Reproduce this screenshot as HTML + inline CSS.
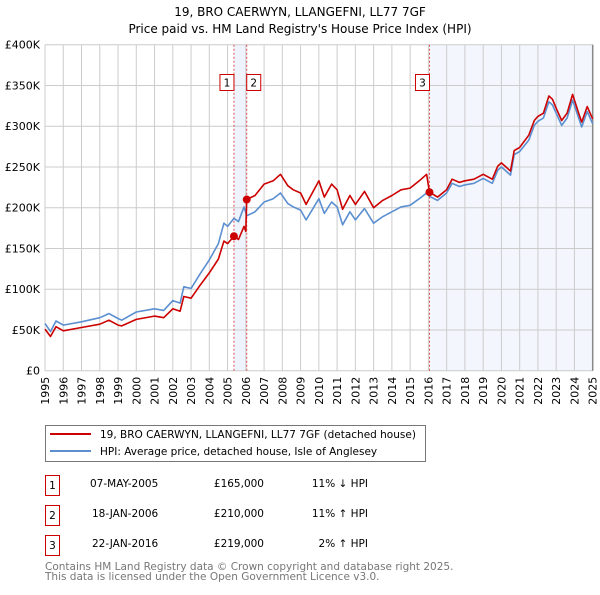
<!DOCTYPE html>
<html><head><meta charset="utf-8"><style>
body{margin:0;background:#fff;}
svg text{font-family:"DejaVu Sans","Liberation Sans",sans-serif;}
</style></head><body>
<svg width="600" height="590" viewBox="0 0 600 590" xmlns="http://www.w3.org/2000/svg">
<text x="300" y="16" text-anchor="middle" font-size="12" fill="#000">19, BRO CAERWYN, LLANGEFNI, LL77 7GF</text>
<text x="300" y="33" text-anchor="middle" font-size="12" fill="#000">Price paid vs. HM Land Registry's House Price Index (HPI)</text>
<g id="plot"></g>
<g>
<rect x="45.5" y="425.5" width="380" height="36" fill="#fff" stroke="#777"/>
<line x1="50" y1="434" x2="91" y2="434" stroke="#cc0000" stroke-width="2"/>
<text x="100" y="438" font-size="10.5">19, BRO CAERWYN, LLANGEFNI, LL77 7GF (detached house)</text>
<line x1="50" y1="451" x2="91" y2="451" stroke="#5b8fd0" stroke-width="2"/>
<text x="100" y="455" font-size="10.5">HPI: Average price, detached house, Isle of Anglesey</text>
</g>
<g font-size="10.5">
<rect x="45.5" y="475.5" width="14" height="20" fill="#fff" stroke="#cc0000"/>
<text x="52.5" y="489" text-anchor="middle">1</text>
<text x="90" y="487">07-MAY-2005</text>
<text x="264" y="487" text-anchor="end">£165,000</text>
<text x="368" y="487" text-anchor="end">11% ↓ HPI</text>
<rect x="45.5" y="505.5" width="14" height="20" fill="#fff" stroke="#cc0000"/>
<text x="52.5" y="519" text-anchor="middle">2</text>
<text x="92" y="517">18-JAN-2006</text>
<text x="264" y="517" text-anchor="end">£210,000</text>
<text x="368" y="517" text-anchor="end">11% ↑ HPI</text>
<rect x="45.5" y="535.5" width="14" height="20" fill="#fff" stroke="#cc0000"/>
<text x="52.5" y="549" text-anchor="middle">3</text>
<text x="92" y="547">22-JAN-2016</text>
<text x="264" y="547" text-anchor="end">£219,000</text>
<text x="368" y="547" text-anchor="end">2% ↑ HPI</text>
</g>
<text x="45" y="570" font-size="10.5" fill="#777">Contains HM Land Registry data © Crown copyright and database right 2025.</text>
<text x="45" y="580" font-size="10.5" fill="#777">This data is licensed under the Open Government Licence v3.0.</text>
</svg>
<script>
const years=[1995.0,1995.3,1995.6,1996.0,1997.0,1998.0,1998.5,1999.0,1999.2,2000.0,2001.0,2001.5,2002.0,2002.4,2002.6,2003.0,2003.5,2004.0,2004.5,2004.8,2005.0,2005.35,2005.6,2005.9,2006.0,2006.05,2006.5,2007.0,2007.5,2007.9,2008.3,2008.6,2009.0,2009.3,2010.0,2010.3,2010.7,2011.0,2011.3,2011.7,2012.0,2012.5,2013.0,2013.5,2014.0,2014.5,2015.0,2015.5,2015.9,2016.06,2016.5,2017.0,2017.3,2017.7,2018.0,2018.5,2019.0,2019.5,2019.8,2020.0,2020.5,2020.7,2021.0,2021.5,2021.8,2022.0,2022.3,2022.6,2022.8,2023.0,2023.3,2023.6,2023.9,2024.2,2024.4,2024.7,2025.0];
const hpiValues=[58,48,61,56,60,65,70,64,62,72,76,74,86,83,103,101,119,136,156,181,177,187,183,201,194,190,195,207,211,218,205,201,197,185,211,193,207,201,179,195,185,199,181,189,195,201,203,211,218,214,209,218,230,226,228,230,236,230,246,250,240,265,269,283,301,306,310,330,326,316,301,310,332,312,299,318,303];
const priceValues=[51,42,54,49,53,57,62,56,55,63,67,65,76,73,91,89,105,120,137,159,156,165,161,177,171,210,215,229,233,241,227,222,218,204,233,213,229,222,198,215,204,220,200,209,215,222,224,233,241,219,213,222,235,231,233,235,241,235,251,255,245,270,274,289,307,312,316,337,333,322,307,316,339,318,305,324,309];
const saleYears=[2005.35,2006.05,2016.06];
const salePrices=[165,210,219];
const saleLabels=["1","2","3"];
const yTicks=[0,50,100,150,200,250,300,350,400];
const yTickLabels=["£0","£50K","£100K","£150K","£200K","£250K","£300K","£350K","£400K"];
const xTicks=[1995,1996,1997,1998,1999,2000,2001,2002,2003,2004,2005,2006,2007,2008,2009,2010,2011,2012,2013,2014,2015,2016,2017,2018,2019,2020,2021,2022,2023,2024,2025];

const NS="http://www.w3.org/2000/svg";
const L=45,R=592.7,T=44.7,B=370.7;
const x=v=>L+(v-1995)/30*(R-L);
const y=v=>B-v/400*(B-T);
const g=document.getElementById('plot');
function mk(tag,attrs){const e=document.createElementNS(NS,tag);for(const k in attrs)e.setAttribute(k,attrs[k]);g.appendChild(e);return e;}

let e=mk('rect',{x:x(saleYears[0]),y:T,width:x(saleYears[1])-x(saleYears[0]),height:B-T,fill:'#eef3fc'});


e=mk('rect',{x:x(saleYears[2]),y:T,width:R-x(saleYears[2]),height:B-T,fill:'#f3f6fd'});



xTicks.forEach((t,i)=>{
  e=mk('line',{x1:x(t),x2:x(t),y1:T,y2:B,stroke:'#ccc','stroke-width':1});
  
  
  const tx=mk('text',{x:0,y:0,'font-size':11,'text-anchor':'end',transform:`translate(${x(t)+4},${B+6}) rotate(-90)`});
  tx.textContent=t;
  
  
});
yTicks.forEach((t,i)=>{
  e=mk('line',{x1:L,x2:R,y1:y(t),y2:y(t),stroke:'#ccc','stroke-width':1});
  
  
  const tx=mk('text',{x:40,y:y(t)+4,'font-size':11,'text-anchor':'end'});
  tx.textContent=yTickLabels[i];
  
  
});
e=mk('line',{x1:R,x2:R,y1:T,y2:B,stroke:'#888','stroke-width':1.5});



saleYears.forEach((s,i)=>{
  e=mk('line',{x1:x(s),x2:x(s),y1:T,y2:B,stroke:'#e05050','stroke-width':1,'stroke-dasharray':'2,2'});
  
  
});

function path(vals,color,name){
  const d=vals.map((v,i)=>(i?'L':'M')+x(years[i]).toFixed(1)+','+y(v).toFixed(1)).join('');
  const p=mk('path',{d:d,fill:'none',stroke:color,'stroke-width':1.6,'stroke-linejoin':'round'});
  
  
}
path(hpiValues,'#5b8fd0','hpi-line');
path(priceValues,'#cc0000','price-paid-line');

saleYears.forEach((s,i)=>{
  e=mk('circle',{cx:x(s),cy:y(salePrices[i]),r:4,fill:'#cc0000'});
  
  
});
const boxX=[x(saleYears[0])-14,x(saleYears[1]),x(saleYears[2])-14];
saleLabels.forEach((lab,i)=>{
  e=mk('rect',{x:boxX[i],y:74.5,width:14,height:16,fill:'#fff',stroke:'#cc0000'});
  
  
  const tx=mk('text',{x:boxX[i]+7,y:86.5,'font-size':10.5,'text-anchor':'middle'});
  tx.textContent=lab;
  
  
});
</script>
</body></html>
